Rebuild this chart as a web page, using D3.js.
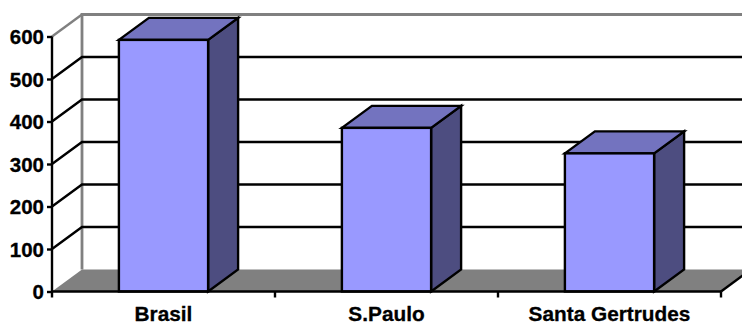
<!DOCTYPE html>
<html>
<head>
<meta charset="utf-8">
<script src="https://cdn.jsdelivr.net/npm/d3@7"></script>
<style>
html, body { margin: 0; padding: 0; background: #fff; overflow: hidden; }
svg { display: block; }
text { font-family: "Liberation Sans", Arial, sans-serif; font-weight: bold; fill: #000; stroke: #000; stroke-width: 0.3px; }
</style>
</head>
<body>
<svg id="chart" width="742" height="324"></svg>
<script>
// Values per location and the value axis ticks
const categories = ["Brasil", "S.Paulo", "Santa Gertrudes"];
const values = [592, 385, 325];
const valueTicks = [0, 100, 200, 300, 400, 500, 600];

const width = 742, height = 324;
const depthX = 30, depthY = 22;   // oblique offset of the back wall
const lineW = 2.4;
const grey = "#808080";

const x = d3.scaleBand().domain(categories).range([52, 721]).paddingInner(0).paddingOuter(0);
const y = d3.scaleLinear().domain([0, 600]).range([291.5, 36.5]);
const barW = x.bandwidth() * 0.4;

const svg = d3.select("#chart");
const line = d3.line();

// Back wall: border, then gridlines with their diagonals on the side wall
svg.append("path")
  .attr("d", line([[x.range()[0] + depthX, y(0) - depthY],
                   [x.range()[0] + depthX, y(600) - depthY],
                   [width + 5, y(600) - depthY]]))
  .attr("fill", "none").attr("stroke", grey).attr("stroke-width", lineW + 0.4);

svg.append("path")
  .attr("d", line([[x.range()[0], y(600)], [x.range()[0] + depthX, y(600) - depthY]]))
  .attr("fill", "none").attr("stroke", grey).attr("stroke-width", lineW);

svg.selectAll("path.grid")
  .data(valueTicks.filter(t => t > 0 && t < 600))
  .join("path")
  .attr("class", "grid")
  .attr("d", t => line([[x.range()[0], y(t)],
                        [x.range()[0] + depthX, y(t) - depthY],
                        [width + 5, y(t) - depthY]]))
  .attr("fill", "none").attr("stroke", "#000").attr("stroke-width", lineW);

// Floor
svg.append("path")
  .attr("d", line([[x.range()[0], y(0)],
                   [x.range()[0] + depthX, y(0) - depthY],
                   [x.range()[1] + depthX, y(0) - depthY],
                   [x.range()[1], y(0)]]) + "Z")
  .attr("fill", grey);

// Right-hand edge of the floor
svg.append("path")
  .attr("d", line([[x.range()[1], y(0)], [x.range()[1] + depthX, y(0) - depthY]]))
  .attr("fill", "none").attr("stroke", "#000").attr("stroke-width", lineW);

// Bars: side face, top face, front face
const bars = svg.selectAll("g.bar")
  .data(categories.map((c, i) => ({ c, v: values[i] })))
  .join("g")
  .attr("class", "bar")
  .attr("stroke", "#000")
  .attr("stroke-width", lineW)
  .attr("stroke-linejoin", "miter");

const left = d => x(d.c) + (x.bandwidth() - barW) / 2;
const right = d => left(d) + barW;

bars.append("path").attr("fill", "#4D4D80")
  .attr("d", d => line([[right(d), y(0)],
                        [right(d) + depthX, y(0) - depthY],
                        [right(d) + depthX, y(d.v) - depthY],
                        [right(d), y(d.v)]]) + "Z");

bars.append("path").attr("fill", "#7373BF")
  .attr("d", d => line([[left(d), y(d.v)],
                        [left(d) + depthX, y(d.v) - depthY],
                        [right(d) + depthX, y(d.v) - depthY],
                        [right(d), y(d.v)]]) + "Z");

bars.append("rect").attr("fill", "#9999FF")
  .attr("x", left)
  .attr("y", d => y(d.v))
  .attr("width", barW)
  .attr("height", d => y(0) - y(d.v));

// Value axis
const yAxis = svg.append("g")
  .attr("transform", `translate(${x.range()[0]},0)`)
  .call(d3.axisLeft(y).tickValues(valueTicks).tickSize(5).tickPadding(3).tickFormat(d3.format("d")));
yAxis.selectAll("path, line").attr("stroke", "#000").attr("stroke-width", lineW);
yAxis.select("path").attr("d", line([[0, y(0)], [0, y(600)]]));
yAxis.selectAll("text").attr("font-size", 20.5).attr("font-family", null).attr("dy", "0.35em");

// Category axis
const xAxis = svg.append("g")
  .attr("transform", `translate(0,${y(0)})`)
  .call(d3.axisBottom(x).tickSize(0).tickPadding(15));
xAxis.select("path").attr("d", line([[x.range()[0], 0], [x.range()[1], 0]]))
  .attr("stroke", "#000").attr("stroke-width", lineW);
xAxis.selectAll("text").attr("font-size", 20.8).attr("font-family", null);

svg.append("g").selectAll("line")
  .data(categories.map(c => x(c)).concat(x.range()[1]))
  .join("line")
  .attr("x1", d => d).attr("x2", d => d)
  .attr("y1", y(0)).attr("y2", y(0) + 6)
  .attr("stroke", "#000").attr("stroke-width", lineW);
</script>
</body>
</html>
